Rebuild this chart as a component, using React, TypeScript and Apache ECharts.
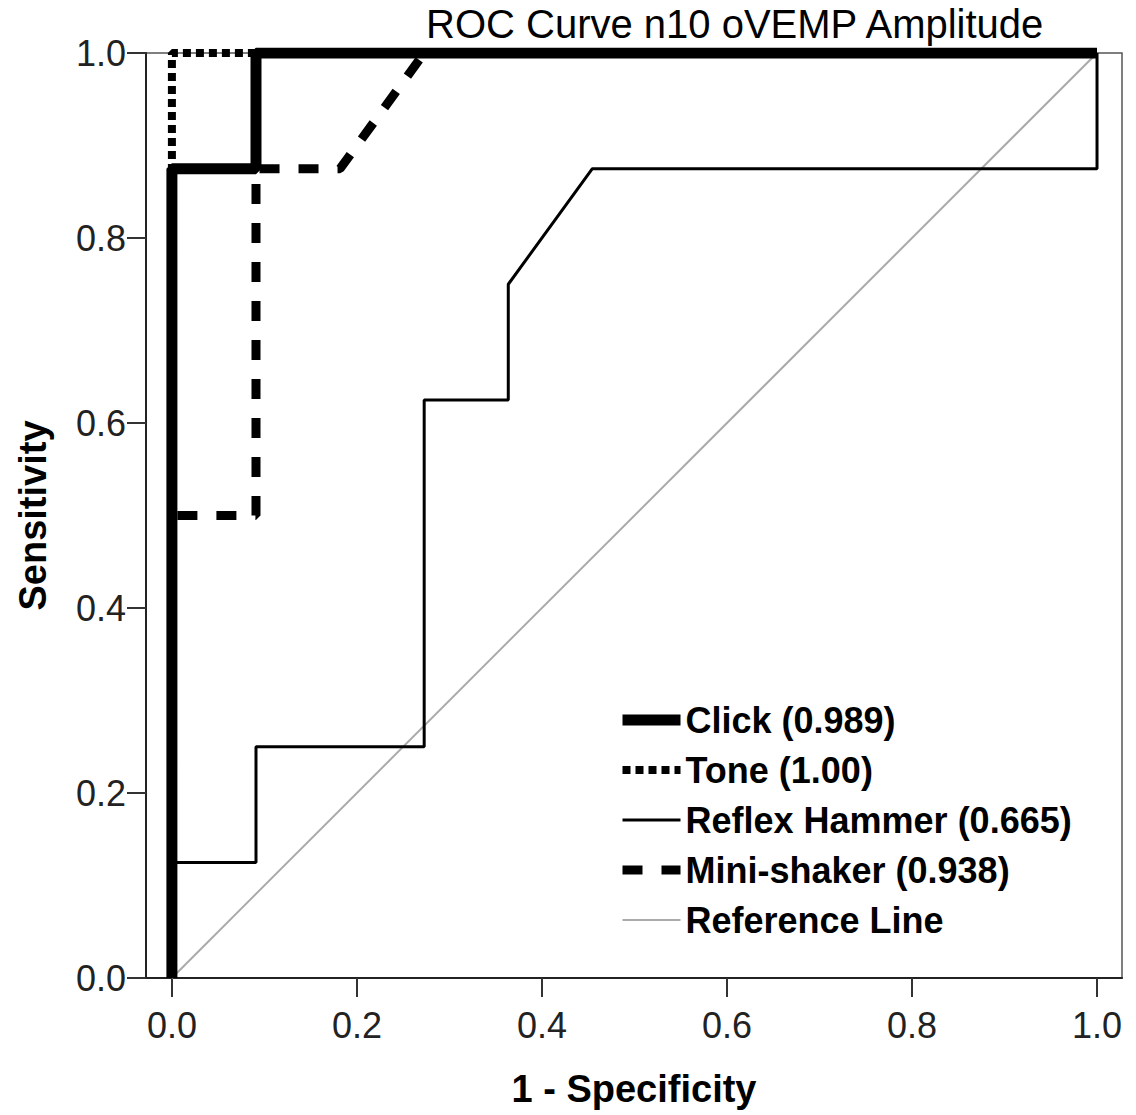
import React, { useEffect, useRef } from "react";
import * as echarts from "echarts";

const FONT = "'Liberation Sans', Arial, sans-serif";

const titleText = "ROC Curve n10 oVEMP Amplitude";
const xAxisName = "1 - Specificity";
const yAxisName = "Sensitivity";
const tickValues = [0, 0.2, 0.4, 0.6, 0.8, 1.0];

const clickName = "Click (0.989)";
const clickX = [0, 0, 0.0909, 0.0909, 1];
const clickY = [0, 0.875, 0.875, 1, 1];

const toneName = "Tone (1.00)";
const toneX = [0, 0, 1];
const toneY = [0, 1, 1];

const hammerName = "Reflex Hammer (0.665)";
const hammerX = [0, 0, 0.0909, 0.0909, 0.2727, 0.2727, 0.3636, 0.3636, 0.4545, 1, 1];
const hammerY = [0, 0.125, 0.125, 0.25, 0.25, 0.625, 0.625, 0.75, 0.875, 0.875, 1];

const shakerName = "Mini-shaker (0.938)";
const shakerX = [0, 0, 0.0909, 0.0909, 0.1818, 0.2727, 1];
const shakerY = [0, 0.5, 0.5, 0.875, 0.875, 1, 1];

const refName = "Reference Line";
const refX = [0, 1];
const refY = [0, 1];

const zip = (xs: number[], ys: number[]) => xs.map((x, i) => [x, ys[i]]);

export default function App() {
  const ref = useRef<HTMLDivElement>(null);
  useEffect(() => {
    if (!ref.current) return;
    const chart = echarts.init(ref.current, null, { renderer: "svg" });
    const lineSeries = (name: string, data: number[][], style: any, z: number) => ({
      name,
      type: "line",
      data,
      symbol: "none",
      showSymbol: false,
      z,
      lineStyle: style,
      itemStyle: { color: style.color },
      emphasis: { disabled: true },
    });
    chart.setOption({
      animation: false,
      textStyle: { fontFamily: FONT },
      title: {
        text: titleText,
        left: 426,
        top: 4,
        padding: 0,
        textStyle: { fontFamily: FONT, fontSize: 40, fontWeight: "normal", color: "#000" },
      },
      grid: {
        left: 146,
        right: 14,
        top: 53,
        bottom: 137,
        show: true,
        borderColor: "#555",
        borderWidth: 1.5,
        backgroundColor: "transparent",
      },
      legend: {
        orient: "vertical",
        left: 617,
        top: 700,
        padding: 0,
        itemWidth: 58,
        itemHeight: 14,
        itemGap: 10,
        selectedMode: false,
        data: [clickName, toneName, hammerName, shakerName, refName],
        lineStyle: { width: "inherit", type: "inherit", color: "inherit" },
        itemStyle: { opacity: 0, borderWidth: 0 },
        textStyle: {
          fontFamily: FONT,
          fontSize: 36,
          fontWeight: "bold",
          color: "#000",
          lineHeight: 40,
        },
      },
      xAxis: {
        type: "value",
        min: -0.028,
        max: 1.027,
        name: xAxisName,
        nameLocation: "middle",
        nameGap: 92,
        nameTextStyle: { fontFamily: FONT, fontSize: 38, fontWeight: "bold", color: "#000" },
        axisLine: { show: true, onZero: false, lineStyle: { color: "#222", width: 2 } },
        axisTick: {
          show: true,
          length: 19,
          customValues: tickValues,
          lineStyle: { color: "#333", width: 2 },
        },
        axisLabel: {
          customValues: tickValues,
          margin: 29,
          fontFamily: FONT,
          fontSize: 36,
          color: "#222",
          formatter: (v: number) => v.toFixed(1),
        },
        splitLine: { show: false },
      },
      yAxis: {
        type: "value",
        min: 0,
        max: 1,
        interval: 0.2,
        name: yAxisName,
        nameLocation: "middle",
        nameGap: 94,
        nameRotate: 90,
        nameTextStyle: { fontFamily: FONT, fontSize: 38, fontWeight: "bold", color: "#000" },
        axisLine: { show: true, onZero: false, lineStyle: { color: "#222", width: 2 } },
        axisTick: { show: true, length: 19, lineStyle: { color: "#333", width: 2 } },
        axisLabel: {
          margin: 20,
          fontFamily: FONT,
          fontSize: 36,
          color: "#222",
          formatter: (v: number) => v.toFixed(1),
        },
        splitLine: { show: false },
      },
      series: [
        lineSeries(refName, zip(refX, refY), { color: "#aaaaaa", width: 2, type: "solid" }, 1),
        lineSeries(hammerName, zip(hammerX, hammerY), { color: "#000", width: 3, type: "solid" }, 2),
        lineSeries(shakerName, zip(shakerX, shakerY), { color: "#000", width: 9, type: [20, 19], cap: "butt" }, 3),
        lineSeries(toneName, zip(toneX, toneY), { color: "#000", width: 8, type: [8, 5], cap: "butt" }, 4),
        lineSeries(clickName, zip(clickX, clickY), { color: "#000", width: 11, type: "solid" }, 5),
      ],
    });
    return () => chart.dispose();
  }, []);
  return (
    <div
      ref={ref}
      style={{ position: "fixed", left: 0, top: 0, width: 1136, height: 1115, background: "#fff" }}
    />
  );
}
